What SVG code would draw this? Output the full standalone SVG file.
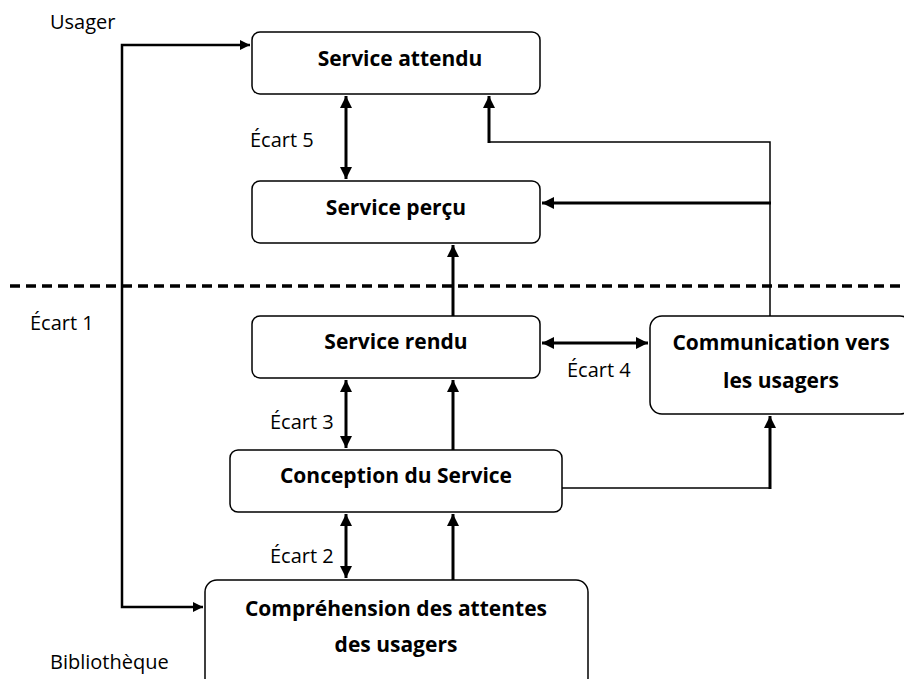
<svg xmlns="http://www.w3.org/2000/svg" width="904" height="679" viewBox="0 0 904 679">
  <style>
    .box { fill: #ffffff; stroke: #000000; stroke-width: 1.5; }
    .title { font-family: "Open Sans", "Liberation Sans", sans-serif; font-weight: bold; font-size: 21px; fill: #000000; text-anchor: middle; }
    .label { font-family: "Open Sans", "Liberation Sans", sans-serif; font-size: 20px; fill: #000000; }
    .thick { fill: none; stroke: #000000; stroke-width: 3; }
    .thin { fill: none; stroke: #000000; stroke-width: 1.5; }
    .sep { fill: none; stroke: #000000; stroke-width: 3.5; stroke-dasharray: 10 6; }
  </style>
  <defs>
    <marker id="head" viewBox="0 0 10 10" refX="10" refY="5" markerWidth="4.2" markerHeight="4" markerUnits="strokeWidth" orient="auto-start-reverse">
      <path d="M0,0 L10,5 L0,10 z" fill="#000000"/>
    </marker>
  </defs>
  <rect width="904" height="679" fill="#ffffff"/>

  <!-- side labels -->
  <text class="label" x="50" y="29">Usager</text>
  <text class="label" x="30" y="330">Écart 1</text>
  <text class="label" x="50" y="669">Bibliothèque</text>

  <!-- user / library boundary -->
  <line class="sep" x1="10" y1="286" x2="904" y2="286"/>

  <g id="service-attendu">
    <rect class="box" x="252" y="32" width="288" height="62" rx="8"/>
    <text class="title" x="400" y="66">Service attendu</text>
  </g>
  <g id="service-percu">
    <rect class="box" x="252" y="181" width="288" height="62" rx="8"/>
    <text class="title" x="396" y="215">Service perçu</text>
  </g>
  <g id="service-rendu">
    <rect class="box" x="252" y="316" width="288" height="62" rx="8"/>
    <text class="title" x="396" y="349">Service rendu</text>
  </g>
  <g id="communication">
    <rect class="box" x="650" y="316" width="262" height="98" rx="12"/>
    <text class="title" x="781" y="350">Communication vers</text>
    <text class="title" x="781" y="388">les usagers</text>
  </g>
  <g id="conception">
    <rect class="box" x="230" y="450" width="332" height="62" rx="8"/>
    <text class="title" x="396" y="483">Conception du Service</text>
  </g>
  <g id="comprehension">
    <rect class="box" x="205" y="580" width="383" height="110" rx="12"/>
    <text class="title" x="396" y="616">Compréhension des attentes</text>
    <text class="title" x="396" y="652">des usagers</text>
  </g>

  <g id="connectors">
    <!-- Écart 1: between user expectation and library understanding -->
    <path class="thick" d="M250,45 H122 V607 H203" marker-start="url(#head)" marker-end="url(#head)" style="stroke-width:2.5"/>
    <!-- Écart 5 -->
    <line class="thick" x1="346" y1="96" x2="346" y2="179" marker-start="url(#head)" marker-end="url(#head)"/>
    <!-- rendu -> perçu -->
    <line class="thick" x1="453" y1="316" x2="453" y2="245" marker-end="url(#head)"/>
    <!-- communication -> attendu -->
    <path class="thin" d="M770,316 V142 H489"/>
    <line class="thick" x1="489" y1="143" x2="489" y2="96" marker-end="url(#head)"/>
    <!-- communication -> perçu -->
    <line class="thick" x1="771" y1="203" x2="542" y2="203" marker-end="url(#head)"/>
    <!-- Écart 3 -->
    <line class="thick" x1="346" y1="380" x2="346" y2="448" marker-start="url(#head)" marker-end="url(#head)"/>
    <!-- conception -> rendu -->
    <line class="thick" x1="453" y1="450" x2="453" y2="380" marker-end="url(#head)"/>
    <!-- Écart 4 -->
    <line class="thick" x1="542" y1="343" x2="648" y2="343" marker-start="url(#head)" marker-end="url(#head)"/>
    <!-- conception -> communication -->
    <path class="thin" d="M562,488 H770"/>
    <line class="thick" x1="770" y1="489" x2="770" y2="416" marker-end="url(#head)"/>
    <!-- Écart 2 -->
    <line class="thick" x1="346" y1="514" x2="346" y2="578" marker-start="url(#head)" marker-end="url(#head)"/>
    <!-- compréhension -> conception -->
    <line class="thick" x1="453" y1="580" x2="453" y2="514" marker-end="url(#head)"/>
  </g>

  <!-- gap labels -->
  <text class="label" x="250" y="147">Écart 5</text>
  <text class="label" x="270" y="429">Écart 3</text>
  <text class="label" x="567" y="377">Écart 4</text>
  <text class="label" x="270" y="563">Écart 2</text>
</svg>
